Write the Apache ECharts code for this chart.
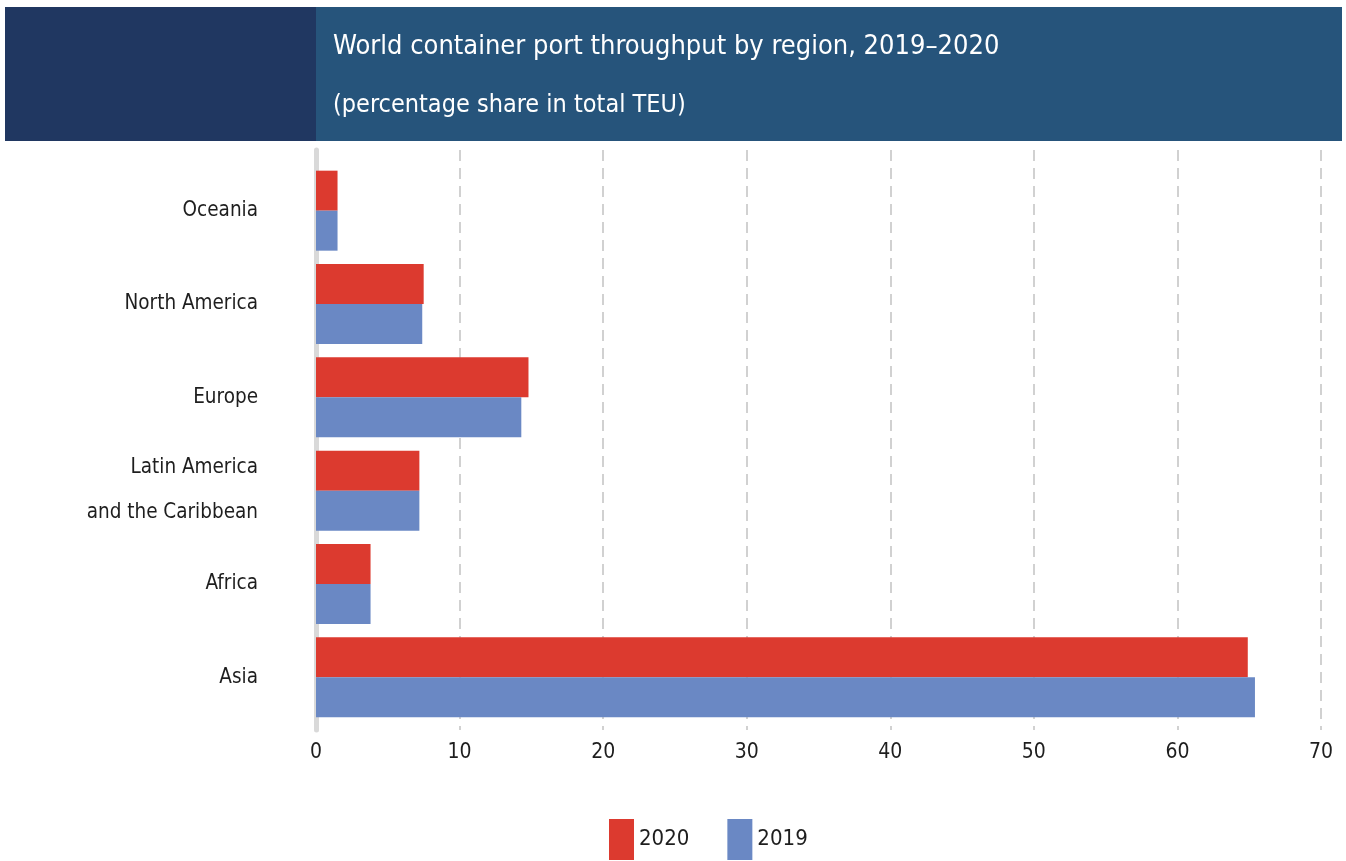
<!DOCTYPE html>
<html lang="en">
<head>
    <meta charset="UTF-8">
    <title>World container port throughput by region</title>
    <script src="https://cdn.jsdelivr.net/npm/echarts@6/dist/echarts.min.js"></script>
    <style>
        html, body { margin: 0; padding: 0; background: #fff; }
        #main { width: 1346px; height: 861px; }
    </style>
</head>
<body>
<div id="main"></div>
<script>
    // 数据
    var regions = ['Oceania', 'North America', 'Europe', 'Latin America\nand the Caribbean', 'Africa', 'Asia'];
    var share2020 = [1.5, 7.5, 14.8, 7.2, 3.8, 64.9];
    var share2019 = [1.5, 7.4, 14.3, 7.2, 3.8, 65.4];
    var xTicks = [0, 70, 10]; // min, max, interval

    var font = "'Liberation Sans Narrow', 'DejaVu Sans Condensed', 'Liberation Sans', sans-serif";
    var myChart = echarts.init(document.getElementById('main'));

    var option = {
        backgroundColor: '#fff',
        animation: false,
        textStyle: { fontFamily: font },
        graphic: [
            { type: 'rect', shape: { x: 5, y: 7, width: 311, height: 134 }, style: { fill: '#203761' }, z: 0 },
            { type: 'rect', shape: { x: 316, y: 7, width: 1026, height: 134 }, style: { fill: '#26547b' }, z: 0 }
        ],
        title: [{
            text: 'World container port throughput by region, 2019\u20132020',
            left: 333, top: 29, padding: 0,
            textStyle: { color: '#fff', fontSize: 27, fontWeight: 'normal', lineHeight: 36, fontFamily: font }
        }, {
            text: '(percentage share in total TEU)',
            left: 333, top: 87, padding: 0,
            textStyle: { color: '#fff', fontSize: 25, fontWeight: 'normal', lineHeight: 36, fontFamily: font }
        }],
        legend: {
            left: 609, top: 819, padding: 0,
            icon: 'rect', itemWidth: 25, itemHeight: 41, itemGap: 38,
            textStyle: { fontSize: 22, color: '#1e1e1e', fontFamily: font },
            data: ['2020', '2019']
        },
        grid: [
            { left: 316, right: 25, top: 164, bottom: 137 },
            { left: 316, right: 25, top: 150, bottom: 131 }
        ],
        xAxis: [{
            gridIndex: 0, type: 'value', min: xTicks[0], max: xTicks[1], interval: xTicks[2],
            axisLabel: { show: false }, axisLine: { show: false }, axisTick: { show: false }, splitLine: { show: false }
        }, {
            gridIndex: 1, type: 'value', min: xTicks[0], max: xTicks[1], interval: xTicks[2],
            axisLabel: { fontSize: 21, color: '#1e1e1e', margin: 12, fontFamily: font },
            axisLine: { show: false }, axisTick: { show: false },
            splitLine: { show: true, lineStyle: { color: '#c2c2c2', width: 1.5, type: [11, 7] } }
        }],
        yAxis: [{
            gridIndex: 0, type: 'category', inverse: true, data: regions,
            axisLabel: { fontSize: 20.5, color: '#1e1e1e', margin: 58, lineHeight: 45, padding: [10, 0, 0, 0], fontFamily: font },
            axisLine: { show: false }, axisTick: { show: false }, splitLine: { show: false }
        }, {
            gridIndex: 1, type: 'value', min: 0, max: 1, offset: 3,
            axisLabel: { show: false }, axisTick: { show: false }, splitLine: { show: false },
            axisLine: { show: true, lineStyle: { color: '#d9d9d9', width: 5 } }
        }],
        series: [{
            name: '2020', type: 'bar', xAxisIndex: 0, yAxisIndex: 0,
            barWidth: 40, barGap: '0%',
            itemStyle: { color: '#dc3a2f' },
            data: share2020
        }, {
            name: '2019', type: 'bar', xAxisIndex: 0, yAxisIndex: 0,
            barWidth: 40, barGap: '0%',
            itemStyle: { color: '#6a88c4' },
            data: share2019
        }]
    };

    myChart.setOption(option);
</script>
</body>
</html>
